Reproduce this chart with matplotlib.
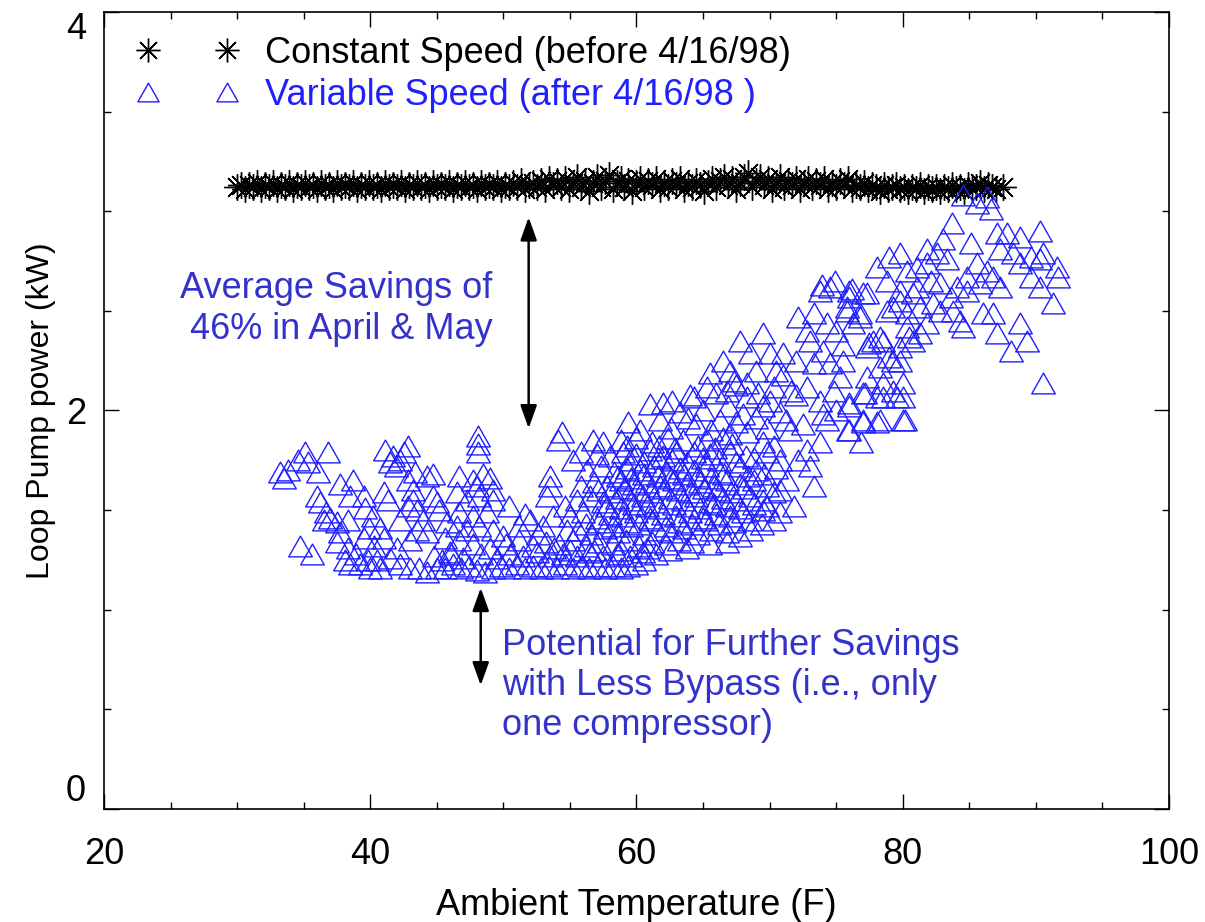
import matplotlib
matplotlib.use("Agg")
import matplotlib.pyplot as plt
from matplotlib.path import Path
from matplotlib.ticker import MultipleLocator

plt.rcParams['font.family'] = ['Liberation Sans', 'DejaVu Sans']

# constant speed pump (before 4/16/98): (temp F, kW)
const_pts = [
    (30.0, 3.12), (30.3, 3.13), (30.6, 3.11), (30.9, 3.13), (31.2, 3.12), (31.5, 3.14), (31.8, 3.11),
    (32.1, 3.13), (32.4, 3.12), (32.7, 3.14), (33.0, 3.11), (33.3, 3.13), (33.6, 3.12), (33.9, 3.14),
    (34.2, 3.11), (34.5, 3.13), (34.8, 3.12), (35.1, 3.14), (35.4, 3.12), (35.7, 3.13), (36.0, 3.11),
    (36.3, 3.14), (36.6, 3.12), (36.9, 3.13), (37.2, 3.11), (37.5, 3.14), (37.8, 3.12), (38.1, 3.13),
    (38.4, 3.12), (38.7, 3.14), (39.0, 3.11), (39.3, 3.13), (39.6, 3.12), (39.9, 3.14), (40.2, 3.12),
    (40.5, 3.13), (40.8, 3.11), (41.1, 3.14), (41.4, 3.12), (41.7, 3.13), (42.0, 3.12), (42.3, 3.14),
    (42.6, 3.11), (42.9, 3.13), (43.2, 3.12), (43.5, 3.14), (43.8, 3.12), (44.1, 3.13), (44.4, 3.11),
    (44.7, 3.14), (45.0, 3.12), (45.3, 3.13), (45.6, 3.12), (45.9, 3.14), (46.2, 3.11), (46.5, 3.13),
    (46.8, 3.12), (47.1, 3.14), (47.4, 3.12), (47.7, 3.13), (48.0, 3.11), (48.3, 3.14), (48.6, 3.12),
    (48.9, 3.13), (49.2, 3.12), (49.5, 3.14), (49.8, 3.11), (50.1, 3.13), (50.4, 3.12), (50.7, 3.14),
    (51.0, 3.12), (51.3, 3.15), (51.6, 3.11), (51.9, 3.13), (52.2, 3.14), (52.5, 3.12), (52.8, 3.15),
    (53.1, 3.11), (53.4, 3.16), (53.7, 3.13), (54.0, 3.15), (54.3, 3.12), (54.6, 3.16), (54.9, 3.11),
    (55.2, 3.14), (55.5, 3.17), (55.8, 3.12), (56.1, 3.15), (56.4, 3.10), (56.7, 3.14), (57.0, 3.17),
    (57.3, 3.12), (57.6, 3.15), (57.9, 3.18), (58.2, 3.11), (58.5, 3.14), (58.8, 3.16), (59.1, 3.12),
    (59.4, 3.15), (59.7, 3.10), (60.0, 3.14), (60.3, 3.16), (60.6, 3.12), (60.9, 3.15), (61.2, 3.13),
    (61.5, 3.16), (61.8, 3.11), (62.1, 3.14), (62.4, 3.12), (62.7, 3.15), (63.0, 3.13), (63.3, 3.16),
    (63.6, 3.11), (63.9, 3.14), (64.2, 3.12), (64.5, 3.15), (64.8, 3.13), (65.1, 3.10), (65.4, 3.14),
    (65.7, 3.16), (66.0, 3.12), (66.3, 3.15), (66.6, 3.17), (66.9, 3.13), (67.2, 3.16), (67.5, 3.11),
    (67.8, 3.14), (68.1, 3.17), (68.4, 3.19), (68.7, 3.12), (69.0, 3.15), (69.3, 3.17), (69.6, 3.13),
    (69.9, 3.16), (70.2, 3.11), (70.5, 3.14), (70.8, 3.17), (71.1, 3.12), (71.4, 3.15), (71.7, 3.13),
    (72.0, 3.16), (72.3, 3.11), (72.6, 3.14), (72.9, 3.16), (73.2, 3.12), (73.5, 3.15), (73.8, 3.13),
    (74.1, 3.16), (74.4, 3.11), (74.7, 3.14), (75.0, 3.12), (75.3, 3.15), (75.6, 3.13), (75.9, 3.16),
    (76.2, 3.11), (76.5, 3.13), (76.8, 3.12), (77.1, 3.14), (77.4, 3.11), (77.7, 3.13), (78.0, 3.12),
    (78.3, 3.10), (78.6, 3.13), (78.9, 3.11), (79.2, 3.12), (79.5, 3.13), (79.8, 3.11), (80.1, 3.12),
    (80.4, 3.10), (80.7, 3.12), (81.0, 3.11), (81.3, 3.13), (81.6, 3.10), (81.9, 3.12), (82.2, 3.11),
    (82.5, 3.12), (82.8, 3.10), (83.1, 3.12), (83.4, 3.11), (83.7, 3.13), (84.0, 3.11), (84.3, 3.12),
    (84.6, 3.10), (84.9, 3.13), (85.2, 3.11), (85.5, 3.12), (85.8, 3.14), (86.1, 3.11), (86.4, 3.13),
    (86.7, 3.12), (87.0, 3.11), (87.5, 3.12),
]

# variable speed pump (after 4/16/98), cold days, scattered part
var_cold = [
    (33.2, 1.69), (33.5, 1.66), (33.8, 1.70), (34.6, 1.75), (35.1, 1.79), (35.3, 1.74), (36.1, 1.69),
    (36.8, 1.79), (34.7, 1.32), (35.6, 1.28), (36.2, 1.54), (36.0, 1.57), (36.7, 1.49), (36.5, 1.45),
    (37.7, 1.63), (38.7, 1.65), (38.5, 1.57), (39.5, 1.57), (39.6, 1.51), (37.0, 1.46), (37.5, 1.44),
    (38.3, 1.45), (37.7, 1.39), (37.5, 1.34), (38.3, 1.31), (38.1, 1.25), (38.9, 1.28), (39.5, 1.36),
    (39.8, 1.25), (40.5, 1.25), (40.7, 1.41), (40.2, 1.47), (39.9, 1.41), (41.0, 1.36), (40.3, 1.32),
    (41.3, 1.55), (41.0, 1.59), (41.1, 1.80), (41.7, 1.77), (41.9, 1.72), (41.5, 1.74), (42.2, 1.75),
    (42.8, 1.82), (42.5, 1.79), (43.4, 1.69), (44.3, 1.67), (44.7, 1.68), (42.8, 1.65), (43.2, 1.60),
    (43.2, 1.55), (42.8, 1.52), (42.2, 1.45), (43.5, 1.50), (44.0, 1.45), (44.7, 1.57), (45.0, 1.54),
    (45.2, 1.50), (44.3, 1.39), (43.5, 1.40), (43.0, 1.35), (42.0, 1.31), (41.5, 1.26), (42.2, 1.23),
    (43.0, 1.21), (43.7, 1.21), (44.3, 1.19), (45.0, 1.21), (40.7, 1.21), (40.0, 1.21), (39.2, 1.23),
    (38.5, 1.23), (45.8, 1.44), (45.6, 1.36), (46.1, 1.28), (45.4, 1.25),
    (48.1, 1.87), (48.1, 1.83), (48.1, 1.79),
    (46.7, 1.67), (47.7, 1.65), (48.5, 1.68), (49.0, 1.66), (48.0, 1.62), (49.2, 1.60), (46.5, 1.59),
    (47.3, 1.55), (48.2, 1.57), (49.2, 1.55), (46.7, 1.49), (47.7, 1.47), (48.8, 1.49), (46.5, 1.42),
    (47.3, 1.40), (48.2, 1.42), (49.2, 1.40), (46.7, 1.35), (47.7, 1.33), (49.0, 1.31),
]

# variable speed, minimum-flow floor around 1.2 kW
var_base = [
    (45.6, 1.21), (46.2, 1.23), (46.8, 1.21), (47.4, 1.22), (48.0, 1.20), (48.6, 1.19), (49.2, 1.21),
    (49.8, 1.22), (50.4, 1.21), (51.0, 1.23), (51.6, 1.21), (52.2, 1.22), (52.8, 1.21), (53.4, 1.22),
    (54.0, 1.21), (54.6, 1.23), (55.2, 1.21), (55.8, 1.22), (56.4, 1.21), (57.0, 1.22), (57.6, 1.21),
    (58.2, 1.22), (58.8, 1.21), (59.4, 1.22), (60.0, 1.23), (60.6, 1.25),
    (44.8, 1.27), (46.0, 1.29), (47.0, 1.26), (48.3, 1.28), (49.5, 1.26), (50.5, 1.28), (51.5, 1.27),
    (52.5, 1.29), (53.5, 1.27), (54.5, 1.28), (55.5, 1.27), (56.5, 1.29), (57.5, 1.27), (58.5, 1.28),
    (59.5, 1.27), (60.5, 1.29), (61.5, 1.28), (62.5, 1.30),
    (50.2, 1.33), (51.2, 1.35), (52.2, 1.32), (53.2, 1.34), (54.2, 1.33), (55.2, 1.35), (56.2, 1.32),
    (57.2, 1.34), (58.2, 1.33), (59.2, 1.35), (60.2, 1.32), (61.2, 1.34), (62.2, 1.33), (63.2, 1.35),
    (64.2, 1.34),
    (50.4, 1.52), (50.0, 1.37), (51.2, 1.42), (52.0, 1.45), (53.0, 1.42), (53.7, 1.47), (53.5, 1.67),
    (53.5, 1.62), (53.3, 1.57), (54.1, 1.85), (54.4, 1.89), (52.6, 1.38), (51.6, 1.48), (54.6, 1.52),
    (54.8, 1.40),
    (53.8, 1.31), (55.0, 1.30), (56.8, 1.30), (58.8, 1.30), (60.8, 1.31), (63.8, 1.31), (65.5, 1.33),
    (66.8, 1.34), (68.6, 1.40), (69.4, 1.43),
]

# variable speed, mild days (dense rising band)
var_mid = [
    (55.6, 1.40), (56.6, 1.38), (57.6, 1.41), (58.6, 1.39), (59.6, 1.42), (60.6, 1.38), (61.6, 1.40),
    (62.6, 1.39), (63.6, 1.41), (64.6, 1.38), (65.6, 1.40), (66.8, 1.39), (67.8, 1.37),
    (55.0, 1.47), (56.0, 1.49), (57.0, 1.46), (58.0, 1.48), (59.0, 1.47), (60.0, 1.49), (61.0, 1.46),
    (62.0, 1.48), (63.0, 1.47), (64.0, 1.49), (65.0, 1.46), (66.0, 1.48), (67.0, 1.47), (68.0, 1.49),
    (69.5, 1.50), (70.3, 1.45), (70.8, 1.49),
    (55.5, 1.55), (56.5, 1.57), (57.5, 1.54), (58.5, 1.56), (59.5, 1.55), (60.5, 1.57), (61.5, 1.54),
    (62.5, 1.56), (63.5, 1.55), (64.5, 1.57), (65.5, 1.54), (66.5, 1.56), (67.5, 1.55), (68.5, 1.57),
    (69.5, 1.55), (70.3, 1.59), (71.8, 1.52),
    (55.2, 1.75), (55.8, 1.62), (56.8, 1.64), (57.8, 1.62), (58.8, 1.65), (59.8, 1.63), (60.8, 1.64),
    (61.8, 1.62), (62.8, 1.65), (63.8, 1.63), (64.8, 1.64), (65.8, 1.62), (66.8, 1.65), (67.8, 1.63),
    (68.8, 1.65), (69.8, 1.62), (71.3, 1.65), (73.3, 1.62),
    (56.3, 1.70), (57.3, 1.72), (58.3, 1.69), (59.3, 1.71), (60.3, 1.70), (61.3, 1.72), (62.3, 1.69),
    (63.3, 1.71), (64.3, 1.70), (65.3, 1.72), (66.3, 1.69), (67.8, 1.72), (69.0, 1.70), (70.5, 1.71),
    (73.0, 1.72),
    (55.8, 1.79), (57.0, 1.78), (58.0, 1.77), (59.0, 1.79), (60.0, 1.78), (61.0, 1.80), (62.0, 1.77),
    (63.0, 1.79), (64.3, 1.79), (65.5, 1.78), (67.0, 1.79), (68.2, 1.77), (69.8, 1.79), (72.1, 1.75),
    (56.7, 1.85), (57.5, 1.84), (58.8, 1.85), (60.0, 1.86), (61.2, 1.84), (62.4, 1.86), (63.5, 1.85),
    (65.3, 1.85), (66.5, 1.86), (68.3, 1.89), (69.5, 1.84), (71.5, 1.90), (73.8, 1.84),
    (59.4, 1.94), (60.3, 1.90), (61.8, 1.95), (63.3, 1.99), (64.5, 1.93), (66.3, 1.95), (67.5, 1.94),
    (69.0, 1.96), (70.8, 1.99), (72.5, 1.93), (74.3, 1.95),
    (61.0, 2.03), (62.0, 2.04), (62.7, 2.05), (64.0, 2.08), (64.3, 2.07), (65.3, 2.12), (66.0, 2.09),
    (66.8, 2.10), (67.5, 2.13), (68.3, 2.14), (68.3, 2.07), (69.1, 2.09), (69.5, 2.02), (70.3, 2.12),
    (72.8, 2.12), (73.8, 2.05), (72.0, 2.08),
    (65.5, 2.19), (66.5, 2.25), (67.3, 2.15), (68.5, 2.29), (70.0, 2.29), (71.0, 2.29), (72.0, 2.25),
    (73.3, 2.24), (74.5, 2.24), (75.5, 2.25), (75.3, 2.17), (67.8, 2.35), (69.5, 2.39), (71.0, 2.18),
    (69.0, 2.20), (70.5, 2.20),
]

# variable speed, core of the mild-day cloud (fills in between the rows above)
var_core = [
    (56.2, 1.43), (57.2, 1.44), (58.2, 1.42), (59.2, 1.44), (60.2, 1.43), (61.2, 1.45), (62.2, 1.42),
    (63.2, 1.44), (64.2, 1.43), (65.2, 1.45), (66.2, 1.43), (67.3, 1.44), (68.5, 1.45),
    (57.8, 1.52), (58.8, 1.51), (59.8, 1.53), (60.8, 1.52), (61.8, 1.51), (62.8, 1.53), (63.8, 1.52),
    (64.8, 1.51), (65.8, 1.53), (66.8, 1.52), (67.8, 1.51), (68.8, 1.53), (69.8, 1.52),
    (57.1, 1.60), (58.1, 1.59), (59.1, 1.61), (60.1, 1.60), (61.1, 1.59), (62.1, 1.61), (63.1, 1.60),
    (64.1, 1.59), (65.1, 1.61), (66.1, 1.60), (67.1, 1.59), (68.1, 1.61), (70.8, 1.60),
    (58.6, 1.67), (59.6, 1.66), (60.6, 1.68), (61.6, 1.67), (62.6, 1.66), (63.6, 1.68), (64.6, 1.67),
    (65.6, 1.66), (66.6, 1.68), (68.4, 1.67), (69.6, 1.68),
    (59.5, 1.75), (60.6, 1.74), (61.6, 1.76), (62.7, 1.75), (63.8, 1.74), (65.0, 1.76), (66.2, 1.75),
    (67.5, 1.74), (68.8, 1.76), (70.8, 1.75),
    (59.3, 1.82), (61.7, 1.82), (62.9, 1.81), (64.6, 1.82), (65.9, 1.81), (67.2, 1.83), (70.3, 1.82),
    (72.8, 1.80), (62.6, 1.91), (65.6, 1.90), (67.0, 1.88), (69.8, 1.91), (71.2, 1.95),
    (63.9, 1.96), (65.0, 2.00), (66.9, 2.02), (68.0, 1.98), (70.0, 2.05), (71.6, 2.10), (67.0, 2.20),
]

# variable speed, warm days
var_warm = [
    (72.1, 2.47), (73.3, 2.49), (74.3, 2.44), (72.8, 2.40), (75.8, 2.50), (76.8, 2.47), (77.3, 2.59),
    (76.0, 2.57), (74.5, 2.62), (73.8, 2.60), (73.9, 2.63), (74.9, 2.65), (76.2, 2.61), (79.3, 2.52),
    (79.8, 2.55), (80.8, 2.59), (74.0, 2.30), (75.0, 2.40), (73.0, 2.35), (75.5, 2.33), (74.8, 2.10),
    (74.0, 1.98), (75.0, 2.00),
    (76.0, 2.04), (77.0, 2.09), (78.3, 1.95), (77.0, 1.94), (76.0, 1.90), (76.9, 1.84), (80.0, 1.95),
    (79.6, 2.07), (78.5, 2.07), (77.3, 2.17), (78.3, 2.22), (79.3, 2.25), (77.5, 2.34), (78.5, 2.35),
    (79.8, 2.32), (80.8, 2.35),
    (84.5, 3.08), (85.6, 3.04), (86.6, 3.01), (86.3, 3.07), (83.7, 2.94), (83.0, 2.86), (85.1, 2.84),
    (87.1, 2.89), (87.8, 2.89), (88.8, 2.87), (90.3, 2.90), (90.5, 2.79), (91.6, 2.72), (91.7, 2.67),
    (91.3, 2.54), (90.3, 2.62), (89.6, 2.67), (88.8, 2.74), (88.3, 2.79), (87.3, 2.81), (87.3, 2.62),
    (86.8, 2.67), (86.3, 2.70), (85.6, 2.74), (84.8, 2.67), (84.1, 2.62), (83.3, 2.76), (82.6, 2.79),
    (81.8, 2.81), (81.8, 2.74), (81.1, 2.72), (79.8, 2.79), (79.0, 2.77), (78.1, 2.72), (78.8, 2.65),
    (80.3, 2.70), (79.8, 2.60), (81.1, 2.62), (82.1, 2.65), (82.8, 2.64), (83.6, 2.57), (84.8, 2.60),
    (85.8, 2.64), (82.3, 2.54), (81.3, 2.52), (80.3, 2.49), (78.8, 2.50), (82.8, 2.50), (84.3, 2.45),
    (83.8, 2.50), (84.5, 2.42), (86.0, 2.49), (86.8, 2.49), (87.1, 2.39), (88.1, 2.30), (88.8, 2.44),
    (89.3, 2.35), (90.5, 2.14), (90.3, 2.76), (89.6, 2.77),
    (76.0, 2.60), (77.0, 2.59), (75.8, 2.52), (76.8, 2.49), (76.3, 2.44), (77.8, 2.35), (77.3, 2.32),
    (78.3, 2.37), (79.0, 2.27), (79.8, 2.25), (80.5, 2.37), (81.3, 2.39), (81.8, 2.44), (80.3, 2.42),
    (78.5, 2.14), (79.3, 2.10), (80.0, 2.14), (80.0, 2.07), (78.1, 2.07), (77.2, 2.09), (77.0, 1.95),
    (80.2, 1.95), (75.9, 1.90), (76.0, 2.02), (78.1, 1.94),
]

x_ticks = [20, 40, 60, 80, 100]
y_ticks = [0, 2, 4]

BLUE = '#1f1fff'
TEXT_BLUE = '#3333cc'
tri = Path([(-1, -0.88), (1, -0.88), (0, 0.88), (-1, -0.88)],
           [Path.MOVETO, Path.LINETO, Path.LINETO, Path.CLOSEPOLY])

const_t = [p[0] for p in const_pts]
const_kw = [p[1] for p in const_pts]
var_all = var_cold + var_base + var_mid + var_core + var_warm
var_t = [p[0] for p in var_all]
var_kw = [p[1] for p in var_all]

fig = plt.figure(figsize=(12.05, 9.22), dpi=100)
ax = fig.add_axes([0.0863, 0.1226, 0.8838, 0.8644])

ax.plot(const_t, const_kw, ls='none', marker=(8, 2, 0), ms=19, mew=1.0,
        color='black', label='Constant Speed (before 4/16/98)')
ax.plot(var_t, var_kw, ls='none', marker=tri, ms=17, mew=1.0,
        mfc='none', mec=BLUE, label='Variable Speed (after 4/16/98 )')

ax.set_xlim(20, 100)
ax.set_ylim(0, 4)
ax.set_xticks(x_ticks)
ax.set_yticks(y_ticks)
ax.xaxis.set_minor_locator(MultipleLocator(5))
ax.yaxis.set_minor_locator(MultipleLocator(0.5))
ax.tick_params(which='both', direction='in', top=True, right=True, width=1)
ax.tick_params(which='major', length=11, labelsize=26)
ax.tick_params(which='minor', length=5)
ax.tick_params(axis='x', which='major', pad=20)
ax.tick_params(axis='y', which='major', pad=13)
for s in ax.spines.values():
    s.set_linewidth(1.2)
ylabels = ax.get_yticklabels()
ylabels[0].set_va('bottom')
ylabels[-1].set_va('top')

ax.set_xlabel('Ambient Temperature (F)', fontsize=26, labelpad=12)
ax.set_ylabel('Loop Pump power (kW)', fontsize=23, labelpad=7)

leg = ax.legend(loc='upper left', bbox_to_anchor=(0.031, 0.97), numpoints=2,
                frameon=False, fontsize=26, handlelength=2.8, handletextpad=0.75,
                borderpad=0, borderaxespad=0, labelspacing=0.2, markerscale=0.9)
for txt, c in zip(leg.get_texts(), ['black', BLUE]):
    txt.set_color(c)

arrow = dict(arrowstyle='<|-|>,head_length=0.7,head_width=0.25', color='black',
             lw=1.8, shrinkA=0, shrinkB=0, mutation_scale=20)
ax.annotate('', xy=(51.9, 2.97), xytext=(51.9, 1.91), arrowprops=arrow)
ax.annotate('', xy=(48.3, 1.11), xytext=(48.3, 0.62), arrowprops=arrow)

ax.text(49.2, 2.51, 'Average Savings of\n46% in April & May', color=TEXT_BLUE,
        fontsize=26, ha='right', va='center', multialignment='right', linespacing=1.2)
ax.text(49.9, 0.62, 'Potential for Further Savings\nwith Less Bypass (i.e., only\none compressor)',
        color=TEXT_BLUE, fontsize=26, ha='left', va='center', linespacing=1.2)

fig.savefig('out.png', dpi=100)
